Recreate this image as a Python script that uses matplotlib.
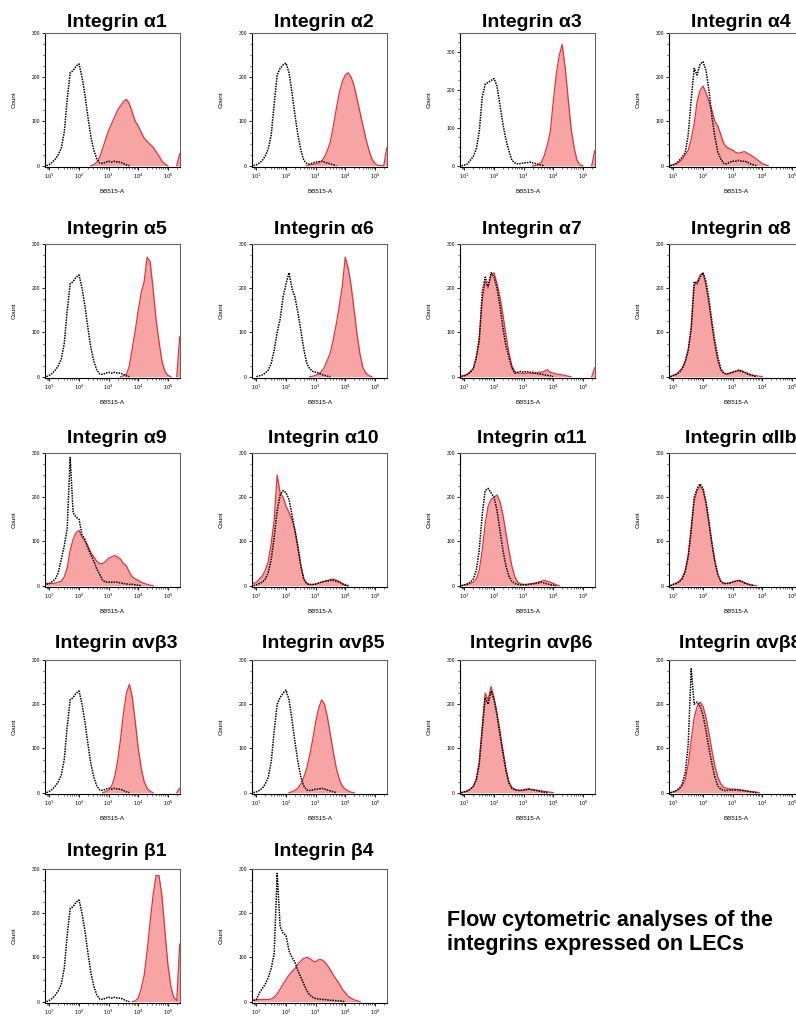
import numpy as np
import matplotlib
matplotlib.use("Agg")
import matplotlib.pyplot as plt
from matplotlib.ticker import FixedLocator, LogLocator, MultipleLocator, NullFormatter

plt.rcParams['font.family'] = ['Liberation Sans', 'DejaVu Sans']

# log10 of BB515-A bin centres
log_bins = [0.9, 1.0, 1.1, 1.2, 1.3, 1.4, 1.5, 1.6, 1.7, 1.8,
            1.9, 2.0, 2.1, 2.2, 2.3, 2.4, 2.5, 2.6, 2.7, 2.8,
            2.9, 3.0, 3.1, 3.2, 3.3, 3.4, 3.5, 3.6, 3.7, 3.8,
            3.9, 4.0, 4.1, 4.2, 4.3, 4.4, 4.5, 4.6, 4.7, 4.8,
            4.9, 5.0, 5.1, 5.2, 5.3, 5.4]

# counts per bin: *_ctrl = isotype (black dotted), *_stain = antibody (red)
a1_ctrl = [0, 3, 8, 15, 25, 40, 75, 150, 210, 215,
           225, 230, 200, 160, 110, 65, 35, 15, 6, 5,
           8, 10, 8, 10, 8, 8, 5, 2, 0, 0,
           0, 0, 0, 0, 0, 0, 0, 0, 0, 0,
           0, 0, 0, 0, 0, 0]
a1_stain = [0, 0, 0, 0, 0, 0, 0, 0, 0, 0,
            0, 0, 0, 0, 0, 0, 2, 8, 20, 40,
            60, 80, 95, 110, 125, 135, 145, 150, 140, 120,
            100, 90, 75, 62, 55, 48, 42, 32, 22, 10,
            4, 0, 0, 0, 0, 27]

a2_ctrl = [0, 2, 6, 12, 22, 38, 70, 140, 205, 220,
           228, 232, 210, 165, 115, 70, 35, 12, 5, 4,
           6, 8, 9, 10, 8, 6, 4, 2, 0, 0,
           0, 0, 0, 0, 0, 0, 0, 0, 0, 0,
           0, 0, 0, 0, 0, 0]
a2_stain = [0, 0, 0, 0, 0, 0, 0, 0, 0, 0,
            0, 0, 0, 0, 0, 0, 0, 0, 0, 2,
            3, 4, 6, 10, 20, 35, 55, 90, 130, 165,
            190, 205, 210, 200, 180, 150, 120, 90, 60, 35,
            15, 5, 1, 0, 0, 40]

a3_ctrl = [0, 2, 5, 15, 25, 45, 90, 180, 215, 220,
           225, 230, 210, 160, 110, 70, 40, 15, 8, 5,
           6, 8, 8, 10, 8, 6, 4, 2, 0, 0,
           0, 0, 0, 0, 0, 0, 0, 0, 0, 0,
           0, 0, 0, 0, 0, 0]
a3_stain = [0, 0, 0, 0, 0, 0, 0, 0, 0, 0,
            0, 0, 0, 0, 0, 0, 0, 0, 0, 0,
            0, 0, 0, 0, 0, 1, 3, 10, 28, 55,
            90, 170, 240, 290, 320, 260, 180, 100, 50, 15,
            3, 0, 0, 0, 0, 40]

a4_ctrl = [0, 2, 5, 12, 20, 30, 70, 150, 220, 205,
           230, 235, 215, 170, 110, 65, 30, 15, 5, 4,
           8, 10, 10, 12, 10, 10, 8, 4, 2, 0,
           0, 0, 0, 0, 0, 0, 0, 0, 0, 0,
           0, 0, 0, 0, 0, 0]
a4_stain = [0, 3, 5, 8, 15, 25, 35, 60, 95, 145,
            170, 180, 165, 145, 125, 100, 90, 70, 50, 42,
            38, 35, 30, 28, 30, 32, 28, 24, 20, 15,
            10, 5, 2, 0, 0, 0, 0, 0, 0, 0,
            0, 0, 0, 0, 0, 0]

a5_ctrl = [0, 3, 8, 15, 25, 40, 75, 150, 210, 215,
           225, 230, 200, 160, 110, 65, 35, 15, 6, 5,
           8, 10, 8, 10, 8, 8, 5, 2, 0, 0,
           0, 0, 0, 0, 0, 0, 0, 0, 0, 0,
           0, 0, 0, 0, 0, 0]
a5_stain = [0, 0, 0, 0, 0, 0, 0, 0, 0, 0,
            0, 0, 0, 0, 0, 0, 0, 0, 0, 0,
            0, 0, 0, 0, 0, 0, 2, 5, 25, 65,
            105, 150, 190, 215, 270, 260, 200, 130, 80, 35,
            12, 3, 0, 0, 0, 90]

a6_ctrl = [0, 0, 2, 4, 8, 15, 30, 60, 100, 130,
           180, 210, 235, 200, 180, 145, 105, 62, 30, 18,
           12, 10, 8, 5, 3, 1, 0, 0, 0, 0,
           0, 0, 0, 0, 0, 0, 0, 0, 0, 0,
           0, 0, 0, 0, 0, 0]
a6_stain = [0, 0, 0, 0, 0, 0, 0, 0, 0, 0,
            0, 0, 0, 0, 0, 0, 0, 0, 0, 0,
            1, 3, 6, 12, 22, 38, 55, 85, 120, 160,
            205, 270, 245, 205, 150, 95, 50, 20, 8, 2,
            0, 0, 0, 0, 0, 0]

a7_ctrl = [0, 2, 5, 10, 18, 45, 80, 190, 225, 205,
           235, 225, 200, 160, 110, 70, 45, 20, 8, 10,
           12, 10, 12, 10, 10, 8, 6, 6, 4, 3,
           2, 0, 0, 0, 0, 0, 0, 0, 0, 0,
           0, 0, 0, 0, 0, 0]
a7_stain = [2, 3, 6, 12, 18, 40, 90, 170, 215, 200,
            230, 235, 210, 180, 140, 95, 55, 25, 12, 8,
            8, 7, 8, 8, 7, 8, 10, 10, 12, 16,
            10, 8, 6, 5, 4, 3, 1, 0, 0, 0,
            0, 0, 0, 0, 0, 20]

a8_ctrl = [0, 3, 5, 10, 18, 35, 60, 110, 215, 210,
           225, 235, 215, 175, 125, 80, 45, 18, 8, 6,
           8, 10, 12, 14, 12, 10, 6, 4, 2, 0,
           0, 0, 0, 0, 0, 0, 0, 0, 0, 0,
           0, 0, 0, 0, 0, 0]
a8_stain = [0, 3, 6, 12, 20, 35, 60, 110, 205, 215,
            230, 235, 205, 165, 115, 70, 35, 15, 8, 5,
            8, 10, 12, 15, 14, 10, 8, 5, 3, 2,
            1, 0, 0, 0, 0, 0, 0, 0, 0, 0,
            0, 0, 0, 0, 0, 0]

a9_ctrl = [3, 5, 10, 15, 30, 60, 90, 130, 290, 165,
           155, 150, 115, 105, 85, 70, 55, 38, 25, 12,
           8, 8, 8, 8, 8, 6, 5, 4, 3, 3,
           2, 1, 0, 0, 0, 0, 0, 0, 0, 0,
           0, 0, 0, 0, 0, 0]
a9_stain = [5, 5, 5, 6, 8, 10, 20, 40, 80, 105,
            120, 125, 110, 100, 90, 75, 65, 55, 50, 50,
            55, 62, 65, 68, 65, 60, 50, 45, 30, 20,
            15, 12, 8, 5, 3, 1, 0, 0, 0, 0,
            0, 0, 0, 0, 0, 0]

a10_ctrl = [0, 2, 5, 8, 15, 30, 60, 110, 170, 205,
            215, 210, 195, 160, 125, 90, 45, 15, 5, 3,
            3, 4, 6, 8, 10, 10, 12, 12, 10, 8,
            4, 1, 0, 0, 0, 0, 0, 0, 0, 0,
            0, 0, 0, 0, 0, 0]
a10_stain = [5, 8, 15, 22, 35, 55, 95, 150, 250, 210,
             200, 180, 165, 150, 125, 85, 45, 15, 4, 2,
             2, 3, 5, 8, 10, 12, 14, 15, 12, 10,
             5, 2, 0, 0, 0, 0, 0, 0, 0, 0,
             0, 0, 0, 0, 0, 0]

a11_ctrl = [0, 2, 4, 8, 15, 35, 80, 160, 215, 220,
            210, 200, 170, 125, 80, 45, 22, 10, 5, 3,
            2, 2, 2, 3, 4, 5, 6, 8, 6, 4,
            2, 1, 0, 0, 0, 0, 0, 0, 0, 0,
            0, 0, 0, 0, 0, 0]
a11_stain = [0, 2, 3, 5, 8, 15, 35, 80, 140, 180,
             195, 200, 205, 190, 160, 120, 80, 45, 20, 8,
             4, 3, 3, 4, 5, 6, 8, 10, 12, 10,
             8, 5, 2, 0, 0, 0, 0, 0, 0, 0,
             0, 0, 0, 0, 0, 0]

aIIb_ctrl = [0, 3, 5, 9, 16, 32, 65, 125, 200, 220,
             230, 220, 190, 145, 95, 55, 25, 10, 5, 5,
             6, 8, 10, 12, 10, 6, 4, 2, 0, 0,
             0, 0, 0, 0, 0, 0, 0, 0, 0, 0,
             0, 0, 0, 0, 0, 0]
aIIb_stain = [0, 3, 6, 10, 18, 35, 70, 130, 190, 215,
              225, 215, 185, 140, 95, 55, 25, 10, 5, 5,
              6, 8, 10, 12, 10, 7, 4, 2, 1, 0,
              0, 0, 0, 0, 0, 0, 0, 0, 0, 0,
              0, 0, 0, 0, 0, 0]

avb3_ctrl = [0, 3, 8, 15, 25, 40, 75, 150, 210, 215,
             225, 230, 200, 160, 110, 65, 35, 15, 6, 5,
             8, 10, 8, 10, 8, 8, 5, 2, 0, 0,
             0, 0, 0, 0, 0, 0, 0, 0, 0, 0,
             0, 0, 0, 0, 0, 0]
avb3_stain = [0, 0, 0, 0, 0, 0, 0, 0, 0, 0,
              0, 0, 0, 0, 0, 0, 0, 0, 0, 0,
              2, 6, 15, 35, 70, 120, 180, 225, 245, 215,
              160, 100, 55, 25, 10, 3, 0, 0, 0, 0,
              0, 0, 0, 0, 0, 10]

avb5_ctrl = [0, 2, 5, 10, 20, 35, 70, 140, 200, 215,
             225, 232, 210, 165, 115, 70, 35, 15, 6, 5,
             6, 8, 8, 10, 8, 6, 4, 2, 0, 0,
             0, 0, 0, 0, 0, 0, 0, 0, 0, 0,
             0, 0, 0, 0, 0, 0]
avb5_stain = [0, 0, 0, 0, 0, 0, 0, 0, 0, 0,
              0, 0, 0, 2, 5, 10, 20, 35, 55, 85,
              120, 160, 190, 210, 200, 170, 130, 90, 55, 30,
              15, 8, 4, 1, 0, 0, 0, 0, 0, 0,
              0, 0, 0, 0, 0, 0]

avb6_ctrl = [0, 2, 4, 8, 14, 28, 65, 140, 215, 200,
             230, 210, 175, 130, 90, 50, 22, 10, 6, 5,
             5, 6, 7, 8, 6, 5, 4, 2, 1, 0,
             0, 0, 0, 0, 0, 0, 0, 0, 0, 0,
             0, 0, 0, 0, 0, 0]
avb6_stain = [0, 2, 4, 8, 15, 30, 70, 150, 225, 210,
              240, 215, 180, 140, 95, 55, 25, 12, 8, 6,
              5, 6, 8, 8, 7, 6, 5, 4, 3, 2,
              1, 0, 0, 0, 0, 0, 0, 0, 0, 0,
              0, 0, 0, 0, 0, 0]

avb8_ctrl = [0, 2, 5, 10, 20, 45, 110, 280, 200, 205,
             195, 175, 140, 100, 65, 35, 15, 8, 5, 5,
             6, 6, 6, 5, 5, 4, 3, 2, 1, 0,
             0, 0, 0, 0, 0, 0, 0, 0, 0, 0,
             0, 0, 0, 0, 0, 0]
avb8_stain = [0, 2, 4, 8, 15, 30, 65, 120, 170, 195,
              205, 195, 170, 135, 95, 60, 35, 20, 12, 10,
              8, 8, 8, 7, 6, 5, 4, 3, 2, 1,
              0, 0, 0, 0, 0, 0, 0, 0, 0, 0,
              0, 0, 0, 0, 0, 0]

b1_ctrl = [0, 3, 8, 15, 25, 40, 75, 150, 210, 215,
           225, 230, 200, 160, 110, 65, 35, 15, 6, 5,
           8, 10, 8, 10, 8, 8, 5, 2, 0, 0,
           0, 0, 0, 0, 0, 0, 0, 0, 0, 0,
           0, 0, 0, 0, 0, 0]
b1_stain = [0, 0, 0, 0, 0, 0, 0, 0, 0, 0,
            0, 0, 0, 0, 0, 0, 0, 0, 0, 0,
            0, 0, 0, 0, 0, 0, 0, 0, 0, 0,
            2, 8, 30, 60, 115, 180, 240, 285, 285, 240,
            160, 85, 35, 10, 2, 130]

b4_ctrl = [3, 5, 20, 30, 40, 55, 75, 110, 290, 170,
           155, 150, 115, 100, 90, 70, 55, 40, 25, 15,
           10, 7, 6, 5, 5, 4, 3, 3, 2, 2,
           1, 0, 0, 0, 0, 0, 0, 0, 0, 0,
           0, 0, 0, 0, 0, 0]
b4_stain = [3, 4, 5, 5, 5, 5, 6, 10, 18, 28,
            40, 50, 60, 68, 75, 85, 92, 98, 100, 98,
            92, 90, 95, 95, 90, 82, 72, 60, 50, 40,
            28, 20, 12, 8, 4, 2, 0, 0, 0, 0,
            0, 0, 0, 0, 0, 0]

titles = ["Integrin α1", "Integrin α2", "Integrin α3", "Integrin α4",
          "Integrin α5", "Integrin α6", "Integrin α7", "Integrin α8",
          "Integrin α9", "Integrin α10", "Integrin α11", "Integrin αIIb",
          "Integrin αvβ3", "Integrin αvβ5", "Integrin αvβ6", "Integrin αvβ8",
          "Integrin β1", "Integrin β4"]
controls = [a1_ctrl, a2_ctrl, a3_ctrl, a4_ctrl, a5_ctrl, a6_ctrl, a7_ctrl, a8_ctrl,
            a9_ctrl, a10_ctrl, a11_ctrl, aIIb_ctrl, avb3_ctrl, avb5_ctrl, avb6_ctrl,
            avb8_ctrl, b1_ctrl, b4_ctrl]
stains = [a1_stain, a2_stain, a3_stain, a4_stain, a5_stain, a6_stain, a7_stain, a8_stain,
          a9_stain, a10_stain, a11_stain, aIIb_stain, avb3_stain, avb5_stain, avb6_stain,
          avb8_stain, b1_stain, b4_stain]
y_max = [300, 300, 350, 300, 300, 300, 300, 300, 300, 300, 300, 300,
         300, 300, 300, 300, 300, 300]

FILL = '#f6a4a4'
EDGE = '#e2323a'

W, H = 796, 1024
col_left = [45, 252, 460, 669]
row_top = [33, 244, 453, 660, 869]
title_base = [27, 234, 443, 648, 856]
ax_w, ax_h = 135, 134

fig = plt.figure(figsize=(W / 100, H / 100), dpi=100)


def trim(vals):
    # hide long runs of zeros so nothing is drawn along the baseline
    v = np.array(vals, dtype=float)
    keep = v > 0
    keep[1:] |= v[:-1] > 0
    keep[:-1] |= v[1:] > 0
    return np.where(keep, v, np.nan)


x = 10 ** np.array(log_bins)

for i, title in enumerate(titles):
    r, c = divmod(i, 4)
    left = col_left[c] / W
    bottom = 1 - (row_top[r] + ax_h) / H
    ax = fig.add_axes([left, bottom, ax_w / W, ax_h / H])

    ax.fill_between(x, stains[i], color=FILL, lw=0)
    ax.plot(x, trim(stains[i]), color=EDGE, lw=0.9)
    ax.plot(x, trim(controls[i]), color='black', lw=1.1, ls=(0, (1, 0.7)))

    ax.set_xscale('log')
    ax.set_xlim(10 ** 0.85, 10 ** 5.41)
    ax.set_ylim(-3, y_max[i])

    ax.xaxis.set_major_locator(FixedLocator([1e1, 1e2, 1e3, 1e4, 1e5]))
    ax.set_xticklabels([r'$10^{1}$', r'$10^{2}$', r'$10^{3}$', r'$10^{4}$', r'$10^{5}$'])
    ax.xaxis.set_minor_locator(LogLocator(base=10, subs=np.arange(2, 10)))
    ax.xaxis.set_minor_formatter(NullFormatter())
    ax.set_yticks([0, 100, 200, 300])
    ax.yaxis.set_minor_locator(MultipleLocator(25))

    ax.tick_params(which='major', length=2.2, width=0.6, labelsize=3.6, pad=1.5)
    ax.tick_params(which='minor', length=1.2, width=0.4)

    for s in ['left', 'bottom']:
        ax.spines[s].set_color('black')
        ax.spines[s].set_linewidth(0.8)
    for s in ['top', 'right']:
        ax.spines[s].set_color('#666666')
        ax.spines[s].set_linewidth(0.8)

    ax.set_xlabel('BB515-A', fontsize=4.5)
    ax.xaxis.set_label_coords(0.5, -0.165)
    ax.set_ylabel('Count', fontsize=4.5)
    ax.yaxis.set_label_coords(-0.21, 0.5)

    fig.text((col_left[c] + 0.53 * ax_w) / W, 1 - title_base[r] / H, title,
             ha='center', va='baseline', fontsize=14, fontweight='bold')

fig.text(447 / W, 1 - 910 / H,
         'Flow cytometric analyses of the\nintegrins expressed on LECs',
         ha='left', va='top', fontsize=15.5, fontweight='bold', linespacing=1.2)

fig.savefig('out.png', dpi=100)
